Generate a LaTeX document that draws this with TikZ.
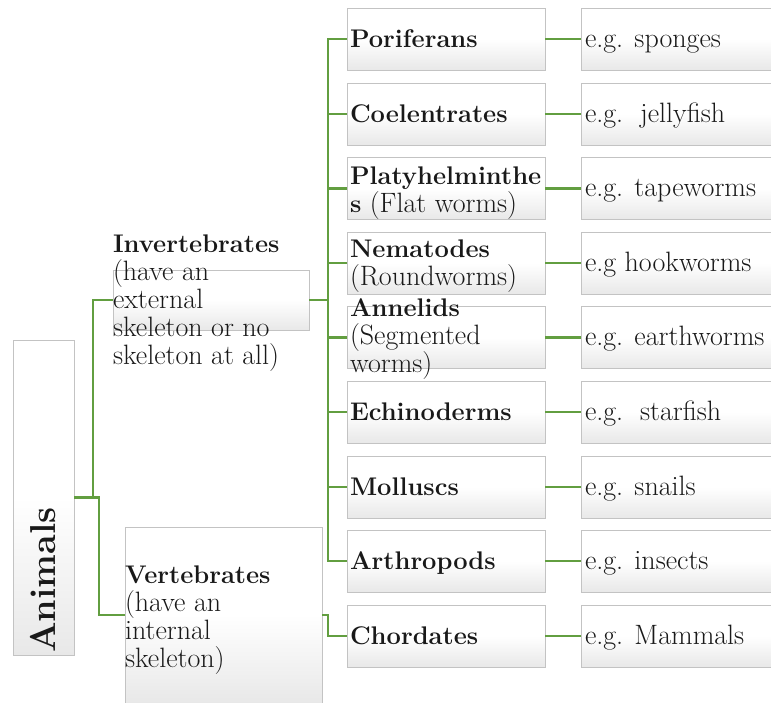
\documentclass[tikz,border=0pt]{standalone}
\usepackage{fontspec}
\definecolor{conngreen}{RGB}{98,158,64}
\definecolor{boxline}{RGB}{195,195,195}
\definecolor{txt}{RGB}{25,25,25}
\begin{document}
\begin{tikzpicture}[x=1pt,y=-1pt,
  box/.style={draw=boxline, line width=0.8pt, top color=white, bottom color=black!9, middle color=white, inner sep=0pt, outer sep=0pt},
  midbox/.style={box, minimum width=198pt, minimum height=62pt},
  rbox/.style={box, minimum width=194pt, minimum height=62pt},
  lbl/.style={inner sep=0pt, outer sep=0pt, text=txt, align=left, anchor=base west, font=\fontsize{28}{28}\selectfont},
  conn/.style={draw=conngreen, line width=2.4pt},
]
\useasboundingbox (0,0) rectangle (771,702);
% left boxes
\node[box, minimum width=61pt, minimum height=315pt] (anim) at (43.5,497.5) {};
\node[box, minimum width=196pt, minimum height=60pt] (inv) at (211,300) {};
\node[box, minimum width=197pt, minimum height=176pt] (vert) at (223.5,615) {};
% middle and right boxes
\foreach \i/\y in {1/39,2/114,3/188.5,4/263,5/337.5,6/412,7/487,8/561,9/636}{
  \node[midbox] (m\i) at (446,\y) {};
  \node[rbox] (r\i) at (678,\y) {};
}
% connectors
\draw[conn] (anim.east) -- ++(19,0) |- (inv.west);
\draw[conn] (anim.east) -- ++(25,0) |- (vert.west);
\draw[conn] (inv.east) -- ++(19,0) coordinate (j);
\foreach \i in {1,...,8}{ \draw[conn] (j) |- (m\i.west); }
\draw[conn] (vert.east) -- ++(6,0) |- (m9.west);
\foreach \i in {1,...,9}{ \draw[conn] (m\i.east) -- (r\i.west); }
% texts (multi-line nodes anchored at the baseline of their last line)
\newcommand{\bt}[1]{{\fontsize{25.5}{28}\selectfont\bfseries #1}}
\node[inner sep=0pt, text=txt, rotate=90, anchor=base west, font=\fontsize{36}{40}\selectfont\bfseries] (animt) at (55,653) {Animals};
\node[lbl] (invt) at (113,364) {\bt{Invertebrates}\\(have an\\external\\skeleton or no\\skeleton at all)};
\node[lbl] (vertt) at (125,667) {\bt{Vertebrates}\\(have an\\internal\\skeleton)};
\node[lbl] (t1) at (350,47) {\bt{Poriferans}};
\node[lbl] (t2) at (350,122) {\bt{Coelentrates}};
\node[lbl] (t3) at (350,212) {\bt{Platyhelminthe}\\\bt{s} (Flat worms)};
\node[lbl] (t4) at (350,285) {\bt{Nematodes}\\(Roundworms)};
\node[lbl] (t5) at (350,372) {\bt{Annelids}\\(Segmented\\worms)};
\node[lbl] (t6) at (350,420) {\bt{Echinoderms}};
\node[lbl] (t7) at (350,495) {\bt{Molluscs}};
\node[lbl] (t8) at (350,569) {\bt{Arthropods}};
\node[lbl] (t9) at (350,644) {\bt{Chordates}};
\node[lbl] (e1) at (585,47) {e.g. sponges};
\node[lbl] (e2) at (585,122) {e.g.\ \ jellyfish};
\node[lbl] (e3) at (585,196.5) {e.g. tapeworms};
\node[lbl] (e4) at (585,271) {e.g hookworms};
\node[lbl] (e5) at (585,345.5) {e.g. earthworms};
\node[lbl] (e6) at (585,420) {e.g.\ \ starfish};
\node[lbl] (e7) at (585,495) {e.g. snails};
\node[lbl] (e8) at (585,569) {e.g. insects};
\node[lbl] (e9) at (585,644) {e.g. Mammals};
\end{tikzpicture}
\end{document}
